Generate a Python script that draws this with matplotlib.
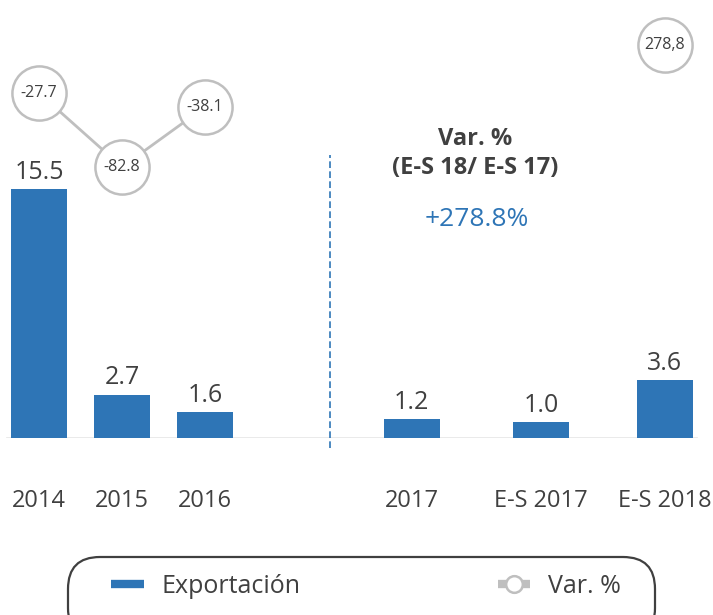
import matplotlib.pyplot as plt
from matplotlib.patches import FancyBboxPatch
from matplotlib.lines import Line2D

# data
categories = ['2014', '2015', '2016', '2017', 'E-S 2017', 'E-S 2018']
export_vals = [15.5, 2.7, 1.6, 1.2, 1.0, 3.6]
var_years = ['2014', '2015', '2016']
var_vals = [-27.7, -82.8, -38.1]
var_labels = ['-27.7', '-82.8', '-38.1']
es_var_val = 278.8
es_var_label = '278,8'

# layout (slot positions along the x axis)
x_pos = [0, 1, 2, 4.49, 6.05, 7.54]
split_x = 3.5

blue = '#2E75B6'
grey = '#BFBFBF'
dark = '#404040'

plt.rcParams['font.family'] = ['Open Sans', 'DejaVu Sans']

fig = plt.figure(figsize=(7.13, 6.15), dpi=100)
ax = fig.add_axes([0, 0.2878, 1, 0.7122])
ax.set_xlim(-0.47, 8.12)
ax.set_ylim(0, 27.27)

bars = ax.bar(x_pos, export_vals, width=0.67, color=blue, zorder=2)
ax.bar_label(bars, labels=[f'{v:.1f}' for v in export_vals], padding=3,
             fontsize=18, color=dark)
ax.axhline(0, xmin=0.01, xmax=0.978, color='#E6E6E6', lw=1.2, zorder=1)

ax.set_xticks(x_pos)
ax.set_xticklabels(categories, fontsize=17, color=dark)
ax.tick_params(axis='x', length=0, pad=37)
ax.set_yticks([])
for s in ax.spines.values():
    s.set_visible(False)

ax.axvline(split_x, ymin=-0.023, ymax=0.646, color=blue, lw=1.2,
           ls=(0, (4, 2)), clip_on=False)

ax.text(5.25, 18.6, 'Var. %', ha='center', va='center',
        fontsize=17, fontweight='bold', color=dark)
ax.text(5.25, 16.8, '(E-S 18/ E-S 17)', ha='center', va='center',
        fontsize=17, fontweight='bold', color=dark)
ax.text(5.28, 13.6, '+278.8%', ha='center', va='center', fontsize=19,
        color=blue)

# variation circles, first group
ax2 = ax.twinx()
ax2.set_ylim(-284.6, 41.55)
ax2.axis('off')
var_x = [x_pos[categories.index(c)] for c in var_years]
ax2.plot(var_x, var_vals, color=grey, lw=2, marker='o', markersize=39,
         markerfacecolor='white', markeredgecolor=grey, markeredgewidth=1.8,
         zorder=3, clip_on=False)
for x, v, lab in zip(var_x, var_vals, var_labels):
    ax2.text(x, v, lab, ha='center', va='center', fontsize=11.5, color=dark,
             zorder=4)

# lone circle for E-S 2018
ax3 = ax.twinx()
ax3.set_ylim(-114.2, 323.8)
ax3.axis('off')
ax3.plot([x_pos[-1]], [es_var_val], marker='o', markersize=39,
         markerfacecolor='white', markeredgecolor=grey, markeredgewidth=1.8,
         clip_on=False)
ax3.text(x_pos[-1], es_var_val, es_var_label, ha='center', va='center',
         fontsize=11.5, color=dark)

# legend with rounded frame
frame = FancyBboxPatch((68, -25), 587, 83, boxstyle='round,pad=0,rounding_size=32',
                       transform=None, facecolor='none', edgecolor=dark, lw=1.6)
fig.patches.append(frame)
handles = [Line2D([], [], color=blue, lw=6, solid_capstyle='butt'),
           Line2D([], [], color=grey, lw=6, marker='o', markersize=12,
                  markerfacecolor='white', markeredgecolor=grey,
                  markeredgewidth=1.8, solid_capstyle='butt')]
fig.legend(handles, ['Exportación', 'Var. %'], ncol=2, loc='center',
           bbox_to_anchor=(0.513, 0.047), frameon=False, fontsize=18,
           handlelength=1.3, handletextpad=0.7, columnspacing=7.9,
           labelcolor=dark)

fig.savefig('out.png', dpi=100)
